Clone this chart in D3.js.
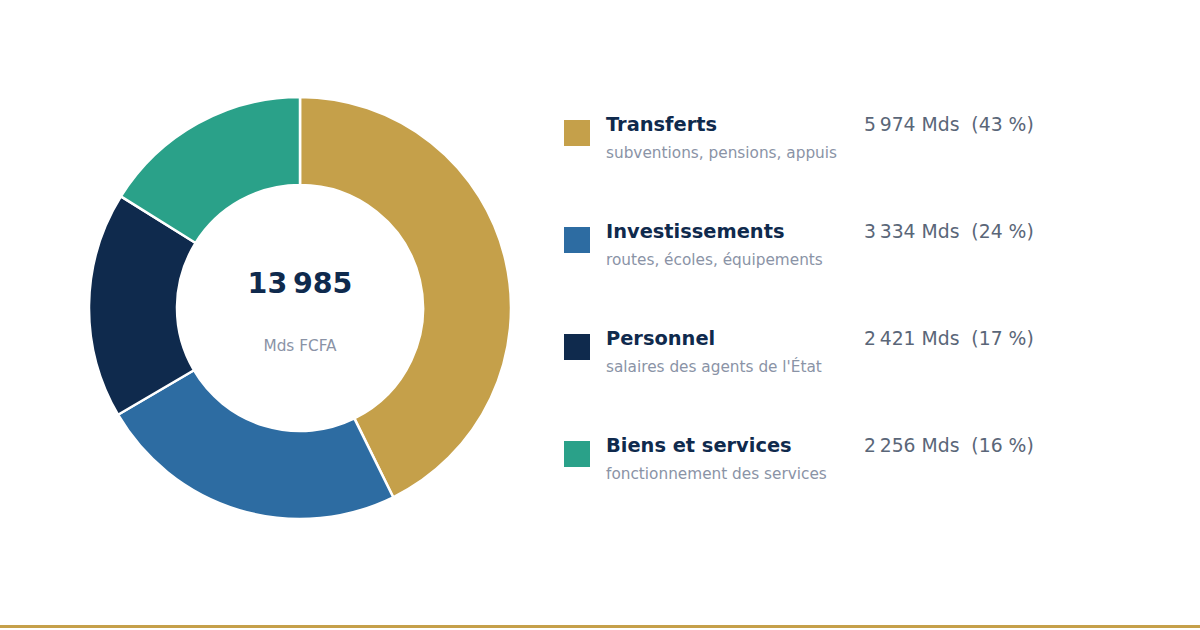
<!DOCTYPE html>
<html><head><meta charset="utf-8">
<script src="https://cdn.jsdelivr.net/npm/d3@7"></script>
<style>
html,body{margin:0;padding:0;background:#fff;}
svg{display:block;font-family:"DejaVu Sans",sans-serif;}
</style></head>
<body>
<svg id="chart" width="1200" height="630"></svg>
<script>
const categories = ["Transferts","Investissements","Personnel","Biens et services"];
const subtitles = ["subventions, pensions, appuis","routes, écoles, équipements","salaires des agents de l'État","fonctionnement des services"];
const values = [5974, 3334, 2421, 2256];
const valueLabels = ["5\u202F974 Mds  (43 %)","3\u202F334 Mds  (24 %)","2\u202F421 Mds  (17 %)","2\u202F256 Mds  (16 %)"];
const colors = ["#c5a04a","#2d6ca2","#0f2a4d","#2aa189"];
const totalLabel = "13\u202F985";
const unitLabel = "Mds FCFA";

const svg = d3.select("#chart");
const cx = 300, cy = 308;
const pie = d3.pie().sort(null).value(d => d);
const arc = d3.arc().innerRadius(123).outerRadius(211);
const g = svg.append("g").attr("transform", `translate(${cx},${cy})`);
g.selectAll("path").data(pie(values)).join("path")
  .attr("d", arc).attr("fill", (d,i) => colors[i])
  .attr("stroke", "#fff").attr("stroke-width", 2.5).attr("stroke-linejoin","round");

g.append("text").attr("text-anchor","middle").attr("y",-15)
  .attr("font-size",28.5).attr("font-weight","bold").attr("fill","#0f2a4d").text(totalLabel);
g.append("text").attr("text-anchor","middle").attr("y",43)
  .attr("font-size",15.3).attr("fill","#8a93a6").text(unitLabel);

const y = d3.scaleBand().domain(categories).range([120, 548]);
const leg = svg.append("g");
const row = leg.selectAll("g").data(categories).join("g")
  .attr("transform", d => `translate(0,${y(d)})`);
row.append("rect").attr("x",564).attr("y",0).attr("width",26).attr("height",26)
  .attr("fill",(d,i)=>colors[i]);
row.append("text").attr("x",606).attr("y",11).attr("font-size",19.4).attr("font-weight","bold")
  .attr("fill","#0f2a4d").text(d=>d);
row.append("text").attr("x",606).attr("y",38).attr("font-size",15.3)
  .attr("fill","#8a93a6").text((d,i)=>subtitles[i]);
row.append("text").attr("x",864).attr("y",11).attr("font-size",18.8)
  .attr("fill","#5a6678").attr("xml:space","preserve").style("white-space","pre").text((d,i)=>valueLabels[i]);

svg.append("rect").attr("x",0).attr("y",625).attr("width",1200).attr("height",3).attr("fill","#c5a04a");
</script>
</body></html>
